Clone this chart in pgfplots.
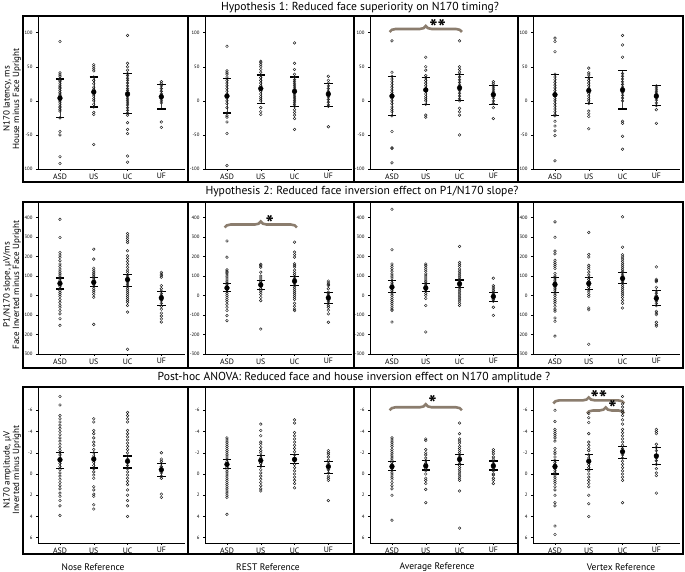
\documentclass[border=0pt]{standalone}
\usepackage{fontspec}
\setmainfont{PT Sans}
\usepackage{pgfplots}
\pgfplotsset{compat=1.18}
\usetikzlibrary{decorations.pathreplacing}
\definecolor{bracecol}{RGB}{139,125,110}
\definecolor{ptcol}{RGB}{30,30,30}
\pgfplotsset{
  panel/.style={
    scale only axis, width=147pt,
    xmin=0.35, xmax=4.7,
    xtick={1,2,3,4}, xticklabels={ASD,US,UC,UF},
    axis x line*=bottom, axis y line*=left,
    axis line style={line width=0.7pt, -},
    tick align=outside, major tick length=2pt,
    tick style={black, line width=0.4pt},
    x tick label style={font=\fontsize{7.8}{8}\selectfont, yshift=1pt},
    y tick label style={font=\fontsize{4.8}{5}\selectfont},
    /pgf/number format/assume math mode=true,
    clip=false, anchor=south west,
  },
  row1/.style={height=152pt, ymin=-100, ymax=123, ytick={-100,-50,0,50,100}},
  row2/.style={height=151pt, ymin=-300, ymax=475, ytick={-300,-200,-100,0,100,200,300,400}},
  row3/.style={height=155pt, y dir=reverse, ymin=-8.1, ymax=6.5, ytick={-6,-4,-2,0,2,4,6}},
  pts/.style={only marks, mark=o, mark size=1.35pt, mark options={ptcol, line width=0.45pt}},
  mb/.style={only marks, mark=*, mark size=2.4pt, black,
    error bars/.cd, y dir=both, y explicit,
    error bar style={line width=0.45pt, black!75},
    error mark options={rotate=90, black, line width=1.2pt, mark size=4.2pt}},
}
\tikzset{br/.style={decorate, decoration={brace, amplitude=6pt}, bracecol, line width=2.6pt}}
\newcommand{\st}{\fontsize{22}{22}\bfseries}
\begin{document}
\begin{tikzpicture}
\path[use as bounding box] (0pt,0pt) rectangle (685pt,572pt);
% ================= ROW 1 =================
\begin{axis}[panel,row1,at={(38pt,403pt)}]
\addplot[pts] coordinates {(1,87)(1,41)(1,38)(1,36)(1,33)(1,30)(1,28)(1,25)(1,22)(1,20)(1,18)(1,15)(1,12)(1,10)(1,8)(1,6)(1,4)(1,2)(1,0)(1,-2)(1,-5)(1,-8)(1,-10)(1,-13)(1,-15)(1,-25)(1,-45)(1,-50)(1,-82)(1,-92)};
\addplot[pts] coordinates {(2,53)(2,50)(2,47)(2,44)(2,35)(2,30)(2,25)(2,20)(2,17)(2,13)(2,10)(2,7)(2,3)(2,0)(2,-5)(2,-9)(2,-17)(2,-20)(2,-64)};
\addplot[pts] coordinates {(3,96)(3,55)(3,50)(3,45)(3,40)(3,37)(3,33)(3,30)(3,26)(3,22)(3,18)(3,15)(3,12)(3,9)(3,6)(3,3)(3,0)(3,-3)(3,-6)(3,-10)(3,-14)(3,-18)(3,-21)(3,-32)(3,-42)(3,-48)(3,-81)(3,-90)};
\addplot[pts] coordinates {(4,28)(4,25)(4,22)(4,18)(4,14)(4,10)(4,7)(4,5)(4,3)(4,0)(4,-3)(4,-31)(4,-39)};
\addplot[mb] coordinates {(1,4) += (0,28) -= (0,29) (2,13) += (0,22) -= (0,22) (3,10) += (0,30) -= (0,29) (4,6) += (0,18) -= (0,18)};
\end{axis}
\begin{axis}[panel,row1,at={(205pt,403pt)}]
\addplot[pts] coordinates {(1,80)(1,44)(1,41)(1,39)(1,35)(1,30)(1,26)(1,22)(1,18)(1,14)(1,10)(1,7)(1,4)(1,0)(1,-4)(1,-10)(1,-18)(1,-22)(1,-24)(1,-31)(1,-48)(1,-95)};
\addplot[pts] coordinates {(2,58)(2,56)(2,53)(2,50)(2,46)(2,42)(2,38)(2,34)(2,30)(2,26)(2,22)(2,18)(2,14)(2,10)(2,6)(2,3)(2,0)(2,-10)(2,-16)(2,-20)};
\addplot[pts] coordinates {(3,85)(3,55)(3,46)(3,39)(3,35)(3,31)(3,28)(3,25)(3,22)(3,19)(3,16)(3,13)(3,10)(3,7)(3,4)(3,1)(3,-2)(3,-5)(3,-8)(3,-13)(3,-17)(3,-21)(3,-26)(3,-42)};
\addplot[pts] coordinates {(4,36)(4,30)(4,26)(4,22)(4,18)(4,14)(4,10)(4,6)(4,2)(4,-2)(4,-6)(4,-8)(4,-38)};
\addplot[mb] coordinates {(1,7) += (0,26) -= (0,25) (2,18) += (0,20) -= (0,22) (3,14) += (0,21) -= (0,22) (4,10) += (0,16) -= (0,18)};
\end{axis}
\begin{axis}[panel,row1,at={(370pt,403pt)}]
\addplot[pts] coordinates {(1,88)(1,42)(1,36)(1,32)(1,28)(1,24)(1,20)(1,16)(1,12)(1,8)(1,4)(1,0)(1,-4)(1,-9)(1,-13)(1,-16)(1,-22)(1,-45)(1,-69)(1,-70)(1,-91)};
\addplot[pts] coordinates {(2,64)(2,50)(2,45)(2,37)(2,34)(2,30)(2,26)(2,22)(2,18)(2,14)(2,10)(2,6)(2,3)(2,0)(2,-5)(2,-21)(2,-24)};
\addplot[pts] coordinates {(3,88)(3,50)(3,46)(3,42)(3,39)(3,35)(3,31)(3,27)(3,23)(3,19)(3,15)(3,11)(3,7)(3,3)(3,0)(3,-11)(3,-16)(3,-21)(3,-50)};
\addplot[pts] coordinates {(4,28)(4,25)(4,22)(4,19)(4,16)(4,13)(4,10)(4,7)(4,4)(4,0)(4,-4)(4,-10)(4,-26)};
\addplot[mb] coordinates {(1,7) += (0,29) -= (0,29) (2,16) += (0,18) -= (0,21) (3,19) += (0,20) -= (0,19) (4,9) += (0,14) -= (0,14)};
\draw[br] (axis cs:0.93,101) -- (axis cs:3.07,101);
\node[font=\st] at (axis cs:2.35,107) {**};
\end{axis}
\begin{axis}[panel,row1,at={(533pt,403pt)}]
\addplot[pts] coordinates {(1,92)(1,87)(1,72)(1,39)(1,35)(1,31)(1,27)(1,23)(1,19)(1,15)(1,11)(1,7)(1,3)(1,0)(1,-4)(1,-8)(1,-12)(1,-16)(1,-20)(1,-22)(1,-30)(1,-37)(1,-44)(1,-51)(1,-88)};
\addplot[pts] coordinates {(2,48)(2,41)(2,38)(2,34)(2,30)(2,26)(2,22)(2,18)(2,15)(2,11)(2,7)(2,3)(2,0)(2,-4)(2,-15)(2,-19)(2,-23)(2,-41)};
\addplot[pts] coordinates {(3,96)(3,82)(3,64)(3,40)(3,36)(3,32)(3,28)(3,24)(3,20)(3,16)(3,12)(3,8)(3,4)(3,0)(3,-30)(3,-33)(3,-52)(3,-71)};
\addplot[pts] coordinates {(4,22)(4,19)(4,16)(4,13)(4,10)(4,7)(4,4)(4,1)(4,-3)(4,-7)(4,-13)(4,-33)};
\addplot[mb] coordinates {(1,9) += (0,30) -= (0,31) (2,15) += (0,19) -= (0,19) (3,16) += (0,29) -= (0,28) (4,7) += (0,15) -= (0,14)};
\end{axis}
% ================= ROW 2 =================
\begin{axis}[panel,row2,at={(38pt,218pt)}]
\addplot[pts] coordinates {(1,391)(1,298)(1,221)(1,208)(1,196)(1,179)(1,162)(1,150)(1,136)(1,125)(1,115)(1,105)(1,95)(1,85)(1,75)(1,65)(1,55)(1,45)(1,35)(1,25)(1,15)(1,5)(1,-5)(1,-20)(1,-35)(1,-50)(1,-60)(1,-77)(1,-94)(1,-119)(1,-153)};
\addplot[pts] coordinates {(2,238)(2,187)(2,140)(2,130)(2,120)(2,110)(2,100)(2,94)(2,85)(2,75)(2,65)(2,55)(2,45)(2,35)(2,25)(2,17)(2,5)(2,-9)(2,-148)};
\addplot[pts] coordinates {(3,318)(3,306)(3,294)(3,282)(3,272)(3,230)(3,204)(3,190)(3,175)(3,160)(3,145)(3,130)(3,119)(3,106)(3,95)(3,85)(3,75)(3,65)(3,55)(3,45)(3,35)(3,25)(3,15)(3,5)(3,-5)(3,-15)(3,-25)(3,-35)(3,-51)(3,-85)(3,-276)};
\addplot[pts] coordinates {(4,119)(4,110)(4,102)(4,94)(4,51)(4,35)(4,22)(4,10)(4,0)(4,-10)(4,-20)(4,-26)(4,-40)(4,-55)(4,-70)(4,-90)(4,-105)(4,-120)(4,-136)};
\addplot[mb] coordinates {(1,62) += (0,28) -= (0,28) (2,68) += (0,26) -= (0,20) (3,82) += (0,24) -= (0,34) (4,-12) += (0,34) -= (0,39)};
\end{axis}
\begin{axis}[panel,row2,at={(205pt,218pt)}]
\addplot[pts] coordinates {(1,280)(1,197)(1,132)(1,125)(1,118)(1,111)(1,100)(1,90)(1,80)(1,70)(1,63)(1,55)(1,45)(1,39)(1,30)(1,20)(1,10)(1,0)(1,-9)(1,-20)(1,-30)(1,-45)(1,-60)(1,-77)(1,-103)(1,-129)};
\addplot[pts] coordinates {(2,160)(2,153)(2,146)(2,120)(2,100)(2,90)(2,80)(2,70)(2,60)(2,55)(2,45)(2,35)(2,25)(2,17)(2,5)(2,-10)(2,-26)(2,-172)};
\addplot[pts] coordinates {(3,274)(3,223)(3,210)(3,197)(3,163)(3,155)(3,146)(3,130)(3,118)(3,108)(3,98)(3,88)(3,78)(3,70)(3,60)(3,50)(3,40)(3,30)(3,20)(3,10)(3,0)(3,-10)(3,-20)(3,-40)(3,-55)(3,-69)(3,-77)};
\addplot[pts] coordinates {(4,74)(4,65)(4,58)(4,51)(4,35)(4,17)(4,9)(4,0)(4,-8)(4,-18)(4,-28)(4,-39)(4,-50)(4,-60)(4,-75)(4,-94)(4,-137)};
\addplot[mb] coordinates {(1,39) += (0,24) -= (0,18) (2,55) += (0,22) -= (0,24) (3,74) += (0,24) -= (0,23) (4,-12) += (0,29) -= (0,27)};
\draw[br] (axis cs:0.93,349) -- (axis cs:3.07,349);
\node[font=\st] at (axis cs:2.27,370) {*};
\end{axis}
\begin{axis}[panel,row2,at={(370pt,218pt)}]
\addplot[pts] coordinates {(1,443)(1,235)(1,162)(1,150)(1,138)(1,125)(1,111)(1,100)(1,90)(1,77)(1,65)(1,55)(1,43)(1,35)(1,25)(1,17)(1,8)(1,0)(1,-10)(1,-20)(1,-30)(1,-40)(1,-50)(1,-60)(1,-70)(1,-77)(1,-136)};
\addplot[pts] coordinates {(2,162)(2,155)(2,145)(2,135)(2,125)(2,111)(2,100)(2,90)(2,80)(2,70)(2,60)(2,50)(2,39)(2,30)(2,22)(2,10)(2,0)(2,-15)(2,-51)(2,-187)};
\addplot[pts] coordinates {(3,252)(3,170)(3,160)(3,150)(3,136)(3,125)(3,115)(3,105)(3,95)(3,85)(3,80)(3,70)(3,60)(3,50)(3,43)(3,33)(3,23)(3,13)(3,3)(3,-8)(3,-18)(3,-28)(3,-40)(3,-51)};
\addplot[pts] coordinates {(4,89)(4,51)(4,43)(4,34)(4,25)(4,17)(4,8)(4,0)(4,-10)(4,-20)(4,-29)(4,-60)(4,-102)};
\addplot[mb] coordinates {(1,43) += (0,34) -= (0,26) (2,39) += (0,21) -= (0,17) (3,60) += (0,20) -= (0,17) (4,-5) += (0,22) -= (0,24)};
\end{axis}
\begin{axis}[panel,row2,at={(533pt,218pt)}]
\addplot[pts] coordinates {(1,378)(1,299)(1,228)(1,214)(1,181)(1,170)(1,160)(1,150)(1,139)(1,113)(1,100)(1,93)(1,85)(1,75)(1,65)(1,57)(1,48)(1,38)(1,28)(1,17)(1,8)(1,0)(1,-10)(1,-20)(1,-30)(1,-40)(1,-55)(1,-70)(1,-80)(1,-115)(1,-132)(1,-208)};
\addplot[pts] coordinates {(2,324)(2,211)(2,198)(2,155)(2,145)(2,135)(2,120)(2,105)(2,93)(2,83)(2,72)(2,62)(2,52)(2,42)(2,29)(2,18)(2,5)(2,-5)(2,-64)(2,-73)(2,-250)};
\addplot[pts] coordinates {(3,404)(3,248)(3,209)(3,198)(3,187)(3,176)(3,165)(3,155)(3,145)(3,135)(3,125)(3,117)(3,105)(3,95)(3,88)(3,78)(3,70)(3,62)(3,52)(3,42)(3,32)(3,22)(3,12)(3,2)(3,-10)(3,-25)(3,-40)(3,-64)};
\addplot[pts] coordinates {(4,147)(4,83)(4,77)(4,71)(4,42)(4,24)(4,12)(4,0)(4,-14)(4,-28)(4,-40)(4,-52)(4,-81)(4,-90)(4,-98)(4,-137)(4,-150)(4,-157)};
\addplot[mb] coordinates {(1,57) += (0,36) -= (0,40) (2,62) += (0,31) -= (0,33) (3,88) += (0,29) -= (0,26) (4,-14) += (0,38) -= (0,38)};
\end{axis}
% ================= ROW 3 =================
\begin{axis}[panel,row3,at={(38pt,29pt)}]
\addplot[pts] coordinates {(1,-7.3)(1,-6.5)(1,-5.5)(1,-5.2)(1,-4.9)(1,-4.6)(1,-4.3)(1,-4.0)(1,-3.7)(1,-3.4)(1,-3.1)(1,-2.8)(1,-2.5)(1,-2.2)(1,-2.0)(1,-1.8)(1,-1.5)(1,-1.3)(1,-1.0)(1,-0.7)(1,-0.4)(1,-0.1)(1,0.2)(1,0.5)(1,0.8)(1,1.1)(1,1.4)(1,1.8)(1,2.1)(1,2.5)(1,3.0)(1,3.9)};
\addplot[pts] coordinates {(2,-5.2)(2,-4.9)(2,-4.1)(2,-3.8)(2,-3.4)(2,-3.0)(2,-2.7)(2,-2.3)(2,-2.0)(2,-1.7)(2,-1.4)(2,-1.1)(2,-0.8)(2,-0.5)(2,-0.2)(2,0.1)(2,0.4)(2,1.2)(2,1.5)(2,1.9)(2,2.1)(2,2.9)(2,3.3)};
\addplot[pts] coordinates {(3,-5.8)(3,-5.5)(3,-5.2)(3,-4.9)(3,-4.1)(3,-3.8)(3,-3.5)(3,-3.2)(3,-2.9)(3,-2.6)(3,-2.3)(3,-2.0)(3,-1.7)(3,-1.4)(3,-1.1)(3,-0.8)(3,-0.5)(3,-0.2)(3,0.1)(3,0.4)(3,0.7)(3,1.0)(3,1.5)(3,2.0)(3,2.5)(3,3.0)(3,4.0)};
\addplot[pts] coordinates {(4,-2.0)(4,-1.4)(4,-1.2)(4,-1.0)(4,-0.7)(4,-0.4)(4,-0.1)(4,0.2)(4,0.4)(4,1.9)(4,2.2)};
\addplot[mb] coordinates {(1,-1.34) += (0,0.84) -= (0,0.66) (2,-1.4) += (0,0.84) -= (0,0.6) (3,-1.2) += (0,0.64) -= (0,0.5) (4,-0.4) += (0,0.6) -= (0,0.6)};
\end{axis}
\begin{axis}[panel,row3,at={(205pt,29pt)}]
\addplot[pts] coordinates {(1,-3.4)(1,-3.2)(1,-3.0)(1,-2.8)(1,-2.6)(1,-2.4)(1,-2.2)(1,-2.0)(1,-1.8)(1,-1.6)(1,-1.4)(1,-1.2)(1,-1.0)(1,-0.8)(1,-0.6)(1,-0.4)(1,-0.2)(1,0)(1,0.2)(1,0.4)(1,0.6)(1,0.8)(1,1.0)(1,1.2)(1,1.4)(1,1.6)(1,1.8)(1,2.0)(1,2.2)(1,3.8)};
\addplot[pts] coordinates {(2,-4.7)(2,-4.1)(2,-3.6)(2,-3.0)(2,-2.8)(2,-2.5)(2,-2.2)(2,-2.0)(2,-1.75)(2,-1.5)(2,-1.27)(2,-1.0)(2,-0.7)(2,-0.4)(2,-0.1)(2,0.2)(2,0.5)(2,0.8)(2,1.1)(2,1.4)(2,1.6)};
\addplot[pts] coordinates {(3,-5.1)(3,-4.8)(3,-3.9)(3,-3.6)(3,-3.3)(3,-3.0)(3,-2.7)(3,-2.4)(3,-2.1)(3,-1.8)(3,-1.5)(3,-1.2)(3,-0.9)(3,-0.6)(3,-0.3)(3,0)(3,0.3)(3,0.6)(3,0.9)(3,1.3)};
\addplot[pts] coordinates {(4,-2.2)(4,-2.0)(4,-1.85)(4,-1.6)(4,-1.3)(4,-1.0)(4,-0.7)(4,-0.4)(4,-0.1)(4,0.2)(4,0.4)(4,0.6)(4,2.5)};
\addplot[mb] coordinates {(1,-0.9) += (0,0.42) -= (0,0.43) (2,-1.27) += (0,0.57) -= (0,0.48) (3,-1.37) += (0,0.37) -= (0,0.43) (4,-0.7) += (0,0.64) -= (0,0.5)};
\end{axis}
\begin{axis}[panel,row3,at={(370pt,29pt)}]
\addplot[pts] coordinates {(1,-3.4)(1,-3.2)(1,-3.0)(1,-2.8)(1,-2.6)(1,-2.3)(1,-2.1)(1,-1.9)(1,-1.7)(1,-1.5)(1,-1.3)(1,-1.1)(1,-0.9)(1,-0.7)(1,-0.5)(1,-0.3)(1,-0.1)(1,0.1)(1,0.3)(1,0.5)(1,0.8)(1,1.1)(1,1.4)(1,2.0)(1,4.35)};
\addplot[pts] coordinates {(2,-3.3)(2,-3.15)(2,-2.3)(2,-2.0)(2,-1.8)(2,-1.5)(2,-1.26)(2,-1.0)(2,-0.76)(2,-0.5)(2,-0.3)(2,0)(2,0.4)(2,0.6)(2,0.9)(2,1.45)(2,2.7)};
\addplot[pts] coordinates {(3,-4.8)(3,-3.8)(3,-3.3)(3,-3.1)(3,-2.9)(3,-2.6)(3,-2.4)(3,-2.2)(3,-2.0)(3,-1.8)(3,-1.6)(3,-1.4)(3,-1.2)(3,-1.0)(3,-0.8)(3,-0.6)(3,-0.4)(3,-0.2)(3,0)(3,0.2)(3,0.4)(3,0.6)(3,1.6)(3,5.1)};
\addplot[pts] coordinates {(4,-2.3)(4,-2.1)(4,-1.9)(4,-1.6)(4,-1.4)(4,-1.2)(4,-1.0)(4,-0.76)(4,-0.5)(4,-0.3)(4,0)(4,0.1)(4,0.4)(4,0.6)(4,0.9)};
\addplot[mb] coordinates {(1,-0.7) += (0,0.4) -= (0,0.47) (2,-0.76) += (0,0.38) -= (0,0.5) (3,-1.39) += (0,0.49) -= (0,0.41) (4,-0.76) += (0,0.38) -= (0,0.47)};
\draw[br] (axis cs:0.93,-6) -- (axis cs:3.07,-6);
\node[font=\st] at (axis cs:2.2,-6.6) {*};
\end{axis}
\begin{axis}[panel,row3,at={(533pt,29pt)}]
\addplot[pts] coordinates {(1,-6.0)(1,-4.95)(1,-4.2)(1,-4.0)(1,-3.8)(1,-3.6)(1,-3.4)(1,-3.1)(1,-2.4)(1,-2.1)(1,-1.9)(1,-1.6)(1,-1.3)(1,-1.1)(1,-0.9)(1,-0.7)(1,-0.5)(1,-0.3)(1,-0.1)(1,0.1)(1,0.3)(1,0.5)(1,0.7)(1,0.9)(1,1.2)(1,1.5)(1,2.0)(1,2.7)(1,3.0)(1,4.9)(1,5.7)};
\addplot[pts] coordinates {(2,-5.7)(2,-5.3)(2,-4.85)(2,-3.8)(2,-3.0)(2,-2.7)(2,-2.4)(2,-2.2)(2,-1.8)(2,-1.5)(2,-1.2)(2,-0.9)(2,-0.6)(2,-0.3)(2,0)(2,0.3)(2,0.6)(2,0.9)(2,1.2)(2,2.0)(2,2.8)(2,4.0)};
\addplot[pts] coordinates {(3,-7.3)(3,-6.6)(3,-6.3)(3,-6.0)(3,-5.8)(3,-5.5)(3,-5.1)(3,-4.7)(3,-4.2)(3,-3.9)(3,-3.6)(3,-3.3)(3,-3.0)(3,-2.7)(3,-2.4)(3,-2.1)(3,-1.8)(3,-1.5)(3,-1.2)(3,-0.9)(3,-0.6)(3,-0.3)(3,0)(3,0.3)(3,0.6)(3,2.7)};
\addplot[pts] coordinates {(4,-4.2)(4,-4.0)(4,-3.8)(4,-2.8)(4,-2.5)(4,-2.2)(4,-1.7)(4,-1.5)(4,-1.25)(4,-0.9)(4,-0.5)(4,-0.1)(4,0.15)(4,1.8)};
\addplot[mb] coordinates {(1,-0.7) += (0,0.7) -= (0,0.6) (2,-1.2) += (0,0.76) -= (0,0.6) (3,-2.1) += (0,0.63) -= (0,0.47) (4,-1.7) += (0,0.82) -= (0,0.8)};
\draw[br] (axis cs:0.95,-6.65) -- (axis cs:3.05,-6.65);
\node[font=\st] at (axis cs:2.3,-7.15) {**};
\draw[br] (axis cs:1.95,-5.7) -- (axis cs:3.05,-5.7);
\node[font=\st] at (axis cs:2.7,-6.2) {*};
\end{axis}
% ================= FRAMES =================
\foreach \yb/\yt in {390/556, 204/370, 18/185}{
  \draw[line width=1.2pt] (23pt,\yb pt) rectangle (683pt,\yt pt);
  \foreach \xd in {188,354,518}{\draw[line width=1.2pt] (\xd pt,\yb pt) -- (\xd pt,\yt pt);}
}
% titles
\node[font=\fontsize{11.6}{12}\selectfont] at (360pt,564pt) {Hypothesis 1: Reduced face superiority on N170 timing?};
\node[font=\fontsize{11.6}{12}\selectfont] at (362pt,380pt) {Hypothesis 2: Reduced face inversion effect on P1/N170 slope?};
\node[font=\fontsize{11.6}{12}\selectfont] at (354pt,194pt) {Post-hoc ANOVA: Reduced face and house inversion effect on N170 amplitude ?};
% y labels
\node[rotate=90, align=center, font=\fontsize{9}{9.5}\selectfont] at (12pt,473pt) {N170 latency, ms\\House minus Face Upright};
\node[rotate=90, align=center, font=\fontsize{9}{9.5}\selectfont] at (12pt,287pt) {P1/N170 slope, µV/ms\\Face Inverted minus Face Upright};
\node[rotate=90, align=center, font=\fontsize{9}{9.5}\selectfont] at (12pt,102pt) {N170 amplitude, µV\\Inverted minus Upright};
% column labels
\node[font=\fontsize{9.5}{10}\selectfont] at (93pt,5pt) {Nose Reference};
\node[font=\fontsize{9.5}{10}\selectfont] at (268pt,5pt) {REST Reference};
\node[font=\fontsize{9.5}{10}\selectfont] at (437pt,5pt) {Average Reference};
\node[font=\fontsize{9.5}{10}\selectfont] at (621pt,5pt) {Vertex Reference};
\end{tikzpicture}
\end{document}
